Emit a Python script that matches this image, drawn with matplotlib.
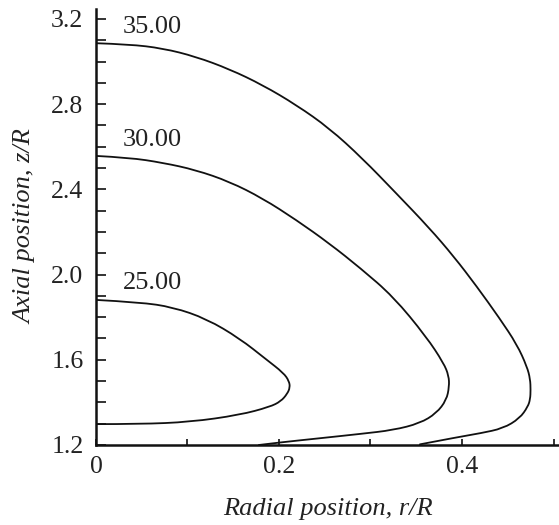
import matplotlib
matplotlib.use('Agg')
import matplotlib.pyplot as plt
from matplotlib.path import Path
from matplotlib.patches import PathPatch
from matplotlib.ticker import MultipleLocator

plt.rcParams['font.family'] = ['Liberation Serif', 'DejaVu Serif']

# contour levels and their traced lines (r/R, z/R)
levels = ['35.00', '30.00', '25.00']

r35 = [0.000, 0.036, 0.073, 0.109, 0.146, 0.182, 0.219, 0.255, 0.291, 0.328, 0.364,
       0.391, 0.416, 0.441, 0.460, 0.471, 0.4745, 0.475, 0.4745, 0.472, 0.463, 0.445,
       0.420, 0.398, 0.354]
z35 = [3.086, 3.081, 3.062, 3.023, 2.964, 2.890, 2.796, 2.687, 2.546, 2.382, 2.220,
       2.085, 1.945, 1.795, 1.672, 1.568, 1.510, 1.458, 1.415, 1.380, 1.325, 1.278,
       1.255, 1.239, 1.203]

r30 = [0.000, 0.036, 0.073, 0.109, 0.146, 0.182, 0.219, 0.255, 0.289, 0.325, 0.361,
       0.380, 0.3855, 0.386, 0.383, 0.372, 0.354, 0.325, 0.289, 0.241, 0.201, 0.178]
z30 = [2.557, 2.549, 2.525, 2.491, 2.436, 2.358, 2.256, 2.146, 2.030, 1.896, 1.708,
       1.584, 1.525, 1.474, 1.411, 1.349, 1.302, 1.270, 1.252, 1.230, 1.212, 1.200]

r25 = [0.000, 0.048, 0.084, 0.121, 0.157, 0.186, 0.205, 0.211, 0.212, 0.209, 0.202,
       0.190, 0.157, 0.103, 0.048, 0.000]
z25 = [1.881, 1.870, 1.847, 1.792, 1.700, 1.602, 1.538, 1.500, 1.470, 1.440, 1.405,
       1.379, 1.341, 1.308, 1.298, 1.298]

label_pos = [(0.062, 3.162), (0.062, 2.632), (0.062, 1.961)]


def smooth_path(xs, ys):
    # quadratic bezier through the midpoints, traced points act as control points
    pts = list(zip(xs, ys))
    verts = [pts[0]]
    codes = [Path.MOVETO]
    for i in range(1, len(pts) - 1):
        mid = ((pts[i][0] + pts[i + 1][0]) / 2, (pts[i][1] + pts[i + 1][1]) / 2)
        if i == len(pts) - 2:
            mid = pts[-1]
        verts += [pts[i], mid]
        codes += [Path.CURVE3, Path.CURVE3]
    return Path(verts, codes)


fig = plt.figure(figsize=(5.59, 5.25), dpi=100)
ax = fig.add_axes([0.1717, 0.1524, 0.8283, 0.8306])

for rr, zz in [(r35, z35), (r30, z30), (r25, z25)]:
    ax.add_patch(PathPatch(smooth_path(rr, zz), fill=False, edgecolor='#111111',
                           lw=1.3, capstyle='round', joinstyle='round'))

for lab, (lx, ly) in zip(levels, label_pos):
    ax.text(lx, ly, lab, fontsize=19, ha='center', va='center', color='#222222')

ax.set_xlim(0, 0.506)
ax.set_ylim(1.2, 3.247)
ax.xaxis.set_minor_locator(MultipleLocator(0.1))
ax.yaxis.set_minor_locator(MultipleLocator(0.1))
ax.set_xticks([0, 0.2, 0.4])
ax.set_xticklabels(['0', '0.2', '0.4'])
ax.set_yticks([1.2, 1.6, 2.0, 2.4, 2.8, 3.2])
ax.set_yticklabels(['1.2', '1.6', '2.0', '2.4', '2.8', '3.2'])

for s in ['top', 'right']:
    ax.spines[s].set_visible(False)
for s in ['left', 'bottom']:
    ax.spines[s].set_linewidth(1.8)
    ax.spines[s].set_color('#111111')

ax.tick_params(axis='y', which='both', direction='in', length=7, width=1.2,
               labelsize=18.5, pad=9, colors='#111111', labelcolor='#222222')
ax.tick_params(axis='x', which='both', direction='in', length=4.5, width=1.2,
               labelsize=18.5, pad=8, colors='#111111', labelcolor='#222222')

ax.set_xlabel('Radial position, r/R', fontsize=19, style='italic', color='#222222')
ax.set_ylabel('Axial position, z/R', fontsize=19, style='italic', color='#222222')
ax.xaxis.set_label_coords(0.5, -0.122)
ax.yaxis.set_label_coords(-0.128, 0.5)

fig.savefig('out.png', dpi=100)
